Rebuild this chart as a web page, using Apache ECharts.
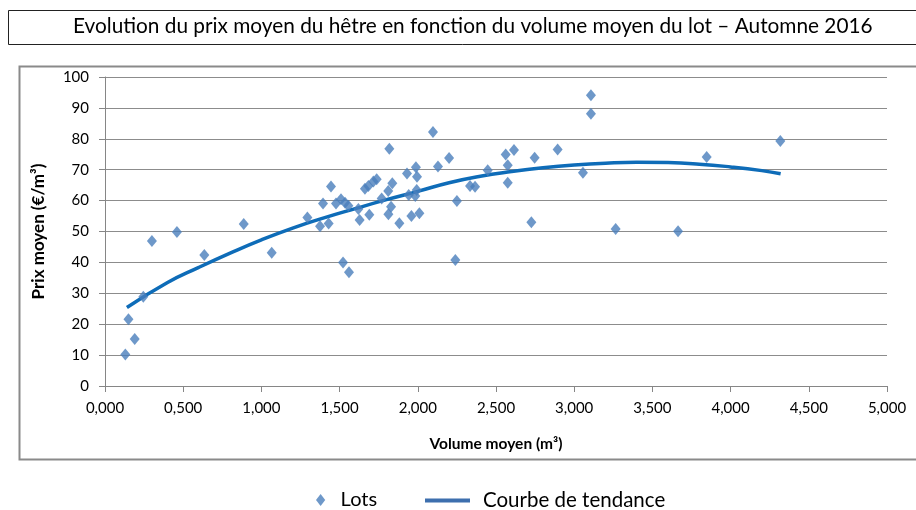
<!DOCTYPE html>
<html>
<head>
<meta charset="utf-8">
<script src="https://cdn.jsdelivr.net/npm/echarts@6/dist/echarts.min.js"></script>
<style>
html,body{margin:0;padding:0;background:#fff;}
#c{width:916px;height:510px;}
</style>
</head>
<body>
<div id="c"></div>
<script>
// Scatter data: volume moyen (m3), prix moyen (EUR/m3)
var lotsVolume = [0.13, 0.15, 0.19, 0.245, 0.30, 0.46, 0.635, 0.887, 1.066,
  1.294, 1.375, 1.43, 1.394, 1.445, 1.477, 1.509, 1.535, 1.556, 1.522, 1.56,
  1.62, 1.628, 1.662, 1.684, 1.716, 1.737, 1.69, 1.769, 1.818, 1.837, 1.811,
  1.829, 1.812, 1.882, 1.931, 1.942, 1.959, 1.988, 1.995, 1.993, 1.984, 2.01,
  2.097, 2.129, 2.2, 2.25, 2.24, 2.334, 2.366, 2.447, 2.562, 2.615, 2.575,
  2.575, 2.726, 2.747, 2.894, 3.056, 3.107, 3.107, 3.265, 3.664, 3.847, 4.318];
var lotsPrix = [10.2, 21.6, 15.2, 28.9, 46.9, 49.8, 42.4, 52.4, 43.1,
  54.5, 51.7, 52.6, 59.1, 64.6, 59.1, 60.4, 59.3, 58.3, 40.0, 36.8,
  57.3, 53.7, 63.8, 64.7, 66.2, 66.9, 55.4, 60.7, 76.8, 65.6, 63.1,
  58.0, 55.6, 52.7, 68.8, 61.8, 55.0, 70.8, 67.7, 63.4, 61.5, 55.9,
  82.2, 71.0, 73.8, 59.9, 40.8, 64.7, 64.5, 69.8, 74.9, 76.4, 71.4,
  65.8, 53.0, 73.9, 76.5, 69.0, 94.1, 88.1, 50.8, 50.1, 74.1, 79.3];
// Trend curve
var trendVolume = [0.14, 0.4, 0.6, 0.8, 1.0, 1.2, 1.4, 1.6, 1.8, 2.0, 2.2, 2.4,
  2.6, 2.8, 3.0, 3.2, 3.4, 3.6, 3.8, 4.0, 4.2, 4.32];
var trendPrix = [25.4, 33.5, 38.4, 43.0, 47.3, 51.1, 54.4, 57.4, 60.3, 63.0, 65.8, 67.9,
  69.4, 70.6, 71.5, 72.1, 72.4, 72.3, 71.8, 70.9, 69.7, 68.7];
var xTicks = ['0,000','0,500','1,000','1,500','2,000','2,500','3,000','3,500','4,000','4,500','5,000'];
var yTicks = [0,10,20,30,40,50,60,70,80,90,100];

var FONT = 'Lato';
var chart = echarts.init(document.getElementById('c'), null, {renderer: 'canvas'});
var lots = lotsVolume.map(function (v, i) { return [v, lotsPrix[i]]; });
var trend = trendVolume.map(function (v, i) { return [v, trendPrix[i]]; });

chart.setOption({
  animation: false,
  backgroundColor: '#ffffff',
  textStyle: {fontFamily: FONT},
  graphic: [
    {type: 'rect', shape: {x: 8.5, y: 10.5, width: 920, height: 34}, style: {fill: '#fff', stroke: '#222', lineWidth: 1}, z: -10},
    {type: 'rect', shape: {x: 19.5, y: 66.5, width: 920, height: 393}, style: {fill: '#fff', stroke: '#8a8a8a', lineWidth: 2}, z: -10},
    {type: 'text', left: 73, top: 16, style: {text: 'Evolution du prix moyen du hêtre en fonction du volume moyen du lot – Automne 2016', font: '20.8px ' + FONT, fill: '#000'}}
  ],
  legend: [
    {data: [{name: 'Lots', icon: 'path://M5,0 L10,6.5 L5,13 L0,6.5 Z'}], left: 311, top: 485, itemWidth: 10, itemHeight: 12, itemGap: 10,
      textStyle: {fontFamily: FONT, fontSize: 20, color: '#000', padding: [0, 0, 0, 10]}},
    {data: [{name: 'Courbe de tendance', icon: 'path://M0,0 L45,0 L45,4 L0,4 Z'}], left: 420, top: 485, itemWidth: 45, itemHeight: 12,
      textStyle: {fontFamily: FONT, fontSize: 20.5, color: '#000', padding: [0, 0, 0, 8]}}
  ],
  grid: {left: 105, right: 29, top: 77, bottom: 124},
  xAxis: {
    type: 'value', min: 0, max: 5, interval: 0.5,
    name: 'Volume moyen (m³)', nameLocation: 'middle', nameGap: 50,
    nameTextStyle: {fontFamily: FONT, fontSize: 15.5, fontWeight: 'bold', color: '#000'},
    axisLine: {show: true, lineStyle: {color: '#868686', width: 1}},
    axisTick: {show: true, length: 6, lineStyle: {color: '#868686'}},
    axisLabel: {fontFamily: FONT, fontSize: 15, color: '#000', margin: 15,
      formatter: function (v) { return xTicks[Math.round(v / 0.5)]; }},
    splitLine: {show: false}
  },
  yAxis: {
    type: 'value', min: 0, max: 100, interval: 10,
    name: 'Prix moyen (€/m³)', nameLocation: 'middle', nameGap: 58,
    nameTextStyle: {fontFamily: FONT, fontSize: 17, fontWeight: 'bold', color: '#000'},
    axisLine: {show: true, lineStyle: {color: '#868686', width: 1}},
    axisTick: {show: true, length: 6, lineStyle: {color: '#868686'}},
    axisLabel: {fontFamily: FONT, fontSize: 15, color: '#000', margin: 16,
      formatter: function (v) { return String(yTicks[Math.round(v / 10)]); }},
    splitLine: {show: true, lineStyle: {color: '#8c8c8c', width: 1}}
  },
  series: [
    {name: 'Lots', type: 'scatter', data: lots, symbol: 'path://M5,0 L10,6.5 L5,13 L0,6.5 Z', symbolSize: [10, 12],
      itemStyle: {color: '#4a7ebb'}, z: 3},
    {name: 'Courbe de tendance', type: 'line', data: trend, smooth: true, showSymbol: false, symbol: 'none',
      lineStyle: {color: '#0e6cb8', width: 3.5}, itemStyle: {color: '#3d6fae'}, z: 2}
  ]
});
</script>
</body>
</html>
